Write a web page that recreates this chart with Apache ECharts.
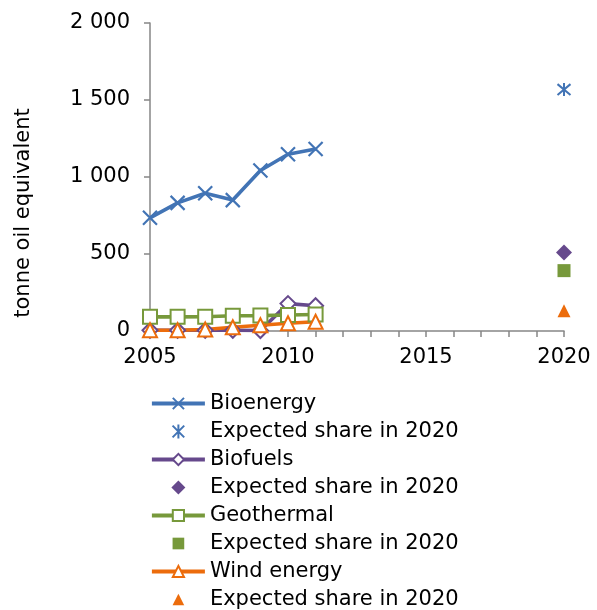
<!DOCTYPE html>
<html><head><meta charset="utf-8">
<script src="https://cdn.jsdelivr.net/npm/echarts@6/dist/echarts.min.js"></script>
<style>html,body{margin:0;padding:0;background:#fff}#c{width:597px;height:610px}</style>
</head><body><div id="c"></div>
<script>
const years = [2005, 2006, 2007, 2008, 2009, 2010, 2011];
const bioenergy = [735, 832, 894, 850, 1042, 1148, 1182];
const biofuels = [5, 5, 5, 5, 3, 178, 164];
const geothermal = [92, 92, 93, 99, 100, 104, 107];
const wind = [5, 5, 10, 24, 37, 50, 60];
const expectedYear = 2020;
const expBioenergy = 1568;
const expBiofuels = 510;
const expGeothermal = 392;
const expWind = 132;
const yTicks = [0, 500, 1000, 1500, 2000];

const C = {blue:'#4274b5', purple:'#66498c', green:'#77993b', orange:'#ec6c0c'};
const EXP = 'Expected share in 2020';
const Z = '\u200b';
const pair = arr => years.map((y,i)=>[y, arr[i]]);
const fmtNum = v => String(v).replace(/\B(?=(\d{3})+(?!\d))/g, ' ');

const xPath = 'path://M0,0L10,10M10,0L0,10';
const starPath = 'path://M0,0L10,10M10,0L0,10M5,-1L5,11';
const diamondPath = 'path://M5,0L10,5L5,10L0,5Z';
const rectPath = 'path://M0,0L10,0L10,10L0,10Z';
const triPath = 'path://M5,0L10,10L0,10Z';
const pad = p => p.replace('path://', 'path://M-1,-1M11,11');

function lineSeries(name, data, color, symbol, size, extra) {
  return Object.assign({
    name, type:'line', data: pair(data), symbol, symbolSize:size,
    lineStyle:{color, width:3.6}, itemStyle:{color, borderColor:color, borderWidth:2},
    emphasis:{disabled:true}, animation:false
  }, extra||{});
}
function expSeries(name, val, color, symbol, size, extra) {
  return Object.assign({
    name, type:'scatter', data:[[expectedYear, val]], symbol, symbolSize:size,
    itemStyle:{color, borderColor:color, borderWidth:0, opacity:1},
    emphasis:{disabled:true}, animation:false
  }, extra||{});
}

const series = [
  lineSeries('Bioenergy', bioenergy, C.blue, xPath, 14, {itemStyle:{color:'rgba(0,0,0,0)', borderColor:C.blue, borderWidth:2.2}}),
  expSeries(EXP, expBioenergy, C.blue, starPath, 13, {itemStyle:{color:'rgba(0,0,0,0)', borderColor:C.blue, borderWidth:2, opacity:1}}),
  lineSeries('Biofuels', biofuels, C.purple, 'emptyDiamond', 15, {itemStyle:{color:C.purple, borderColor:C.purple, borderWidth:2}}),
  expSeries(EXP+Z, expBiofuels, C.purple, diamondPath, 16),
  lineSeries('Geothermal', geothermal, C.green, 'emptyRect', 14, {itemStyle:{color:C.green, borderColor:C.green, borderWidth:2}}),
  expSeries(EXP+Z+Z, expGeothermal, C.green, rectPath, 13),
  lineSeries('Wind energy', wind, C.orange, 'emptyTriangle', 14, {itemStyle:{color:C.orange, borderColor:C.orange, borderWidth:2}}),
  expSeries(EXP+Z+Z+Z, expWind, C.orange, triPath, 13)
];

const legendData = [
  {name:'Bioenergy'},
  {name:EXP, icon: starPath},
  {name:'Biofuels'},
  {name:EXP+Z, icon: diamondPath},
  {name:'Geothermal'},
  {name:EXP+Z+Z, icon: pad(rectPath)},
  {name:'Wind energy'},
  {name:EXP+Z+Z+Z, icon: pad(triPath)}
];

const chart = echarts.init(document.getElementById('c'), null, {renderer:'canvas'});
chart.setOption({
  animation:false,
  textStyle:{fontFamily:'DejaVu Sans'},
  grid:{left:150, right:33, top:23, bottom:279, containLabel:false},
  xAxis:{
    type:'value', min:2005, max:2020, interval:1,
    axisLine:{lineStyle:{color:'#868686', width:1.5}},
    axisTick:{show:true, length:6, lineStyle:{color:'#868686', width:1.5}},
    splitLine:{show:false},
    axisLabel:{margin:16, fontSize:21, color:'#000', fontFamily:'DejaVu Sans',
      formatter: v => (v % 5 === 0 ? String(v) : '')}
  },
  yAxis:{
    type:'value', min:yTicks[0], max:yTicks[yTicks.length-1], interval:500,
    name:'tonne oil equivalent', nameLocation:'middle', nameGap:116, nameRotate:90,
    nameTextStyle:{fontSize:21, color:'#000', fontFamily:'DejaVu Sans', padding:[0,72,0,0]},
    axisLine:{show:true, lineStyle:{color:'#868686', width:1.5}},
    axisTick:{show:true, length:6, lineStyle:{color:'#868686', width:1.5}},
    splitLine:{show:false},
    axisLabel:{margin:20, fontSize:21, color:'#000', fontFamily:'DejaVu Sans', formatter: v => fmtNum(v)}
  },
  legend:{
    orient:'vertical', left:150, top:393, height:230, padding:0,
    itemWidth:53, itemHeight:14, itemGap:7,
    lineStyle:{width:3.8},
    textStyle:{fontSize:21, color:'#000', fontFamily:'DejaVu Sans', lineHeight:21},
    data: legendData,
    formatter: n => n.replace(/\u200b/g,''),
    selectedMode:false
  },
  series
});
</script></body></html>
